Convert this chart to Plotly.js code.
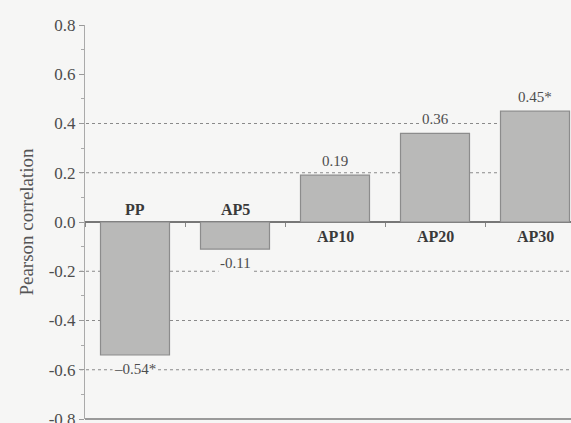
<!DOCTYPE html>
<html>
<head>
<meta charset="utf-8">
<script src="https://cdn.plot.ly/plotly-3.0.1.min.js"></script>
<style>
html,body{margin:0;padding:0;width:571px;height:423px;overflow:hidden;background:#f6f6f5;}
#chart{width:600px;height:423px;}
</style>
</head>
<body>
<div id="chart"></div>
<script>
const categories = ['PP', 'AP5', 'AP10', 'AP20', 'AP30'];
const values = [-0.54, -0.11, 0.19, 0.36, 0.45];
const valueLabels = ['\u20130.54*', '-0.11', '0.19', '0.36', '0.45*'];
const gridValues = [0.4, 0.2, -0.2, -0.4, -0.6];
const yTickValues = [0.8, 0.6, 0.4, 0.2, 0.0, -0.2, -0.4, -0.6, -0.8];
const yTickLabels = ['0.8', '0.6', '0.4', '0.2', '0.0', '-0.2', '-0.4', '-0.6', '-0.8'];

const serif = '"Liberation Serif", "Times New Roman", serif';
const bg = '#f6f6f5';
const textColor = '#4d4d4d';

const trace = {
  type: 'bar',
  x: categories,
  y: values,
  width: 0.69,
  marker: {color: '#b9b9b8', line: {color: '#8c8c8c', width: 1.2}},
  hoverinfo: 'skip'
};

const annotations = [];
categories.forEach((c, i) => {
  const v = values[i];
  annotations.push({
    x: c, y: v, xref: 'x', yref: 'y',
    text: valueLabels[i], showarrow: false,
    yanchor: v < 0 ? 'top' : 'bottom',
    yshift: v < 0 ? -4 : 4,
    bgcolor: bg,
    font: {family: serif, size: 15, color: textColor}
  });
  annotations.push({
    x: c, y: 0, xref: 'x', yref: 'y',
    text: '<b>' + c + '</b>', showarrow: false,
    yanchor: v < 0 ? 'bottom' : 'top',
    yshift: v < 0 ? 2 : -4,
    font: {family: serif, size: 16, color: '#3a3a3a'}
  });
});

const shapes = gridValues.map(g => ({
  type: 'line', xref: 'paper', yref: 'y',
  x0: -0.01, x1: 1, y0: g, y1: g,
  line: {color: '#8a8a8a', width: 1, dash: 'dot'},
  layer: 'below'
}));
shapes.push({
  type: 'line', xref: 'paper', yref: 'paper',
  x0: 0, x1: 1, y0: 0, y1: 0,
  line: {color: '#9a9a9a', width: 2}
});

const layout = {
  width: 600, height: 423,
  margin: {l: 85, r: 15, t: 25, b: 4},
  paper_bgcolor: bg, plot_bgcolor: bg,
  showlegend: false,
  font: {family: serif, color: textColor},
  xaxis: {
    type: 'category',
    range: [-0.5, 4.5],
    anchor: 'free', position: 0.5,
    showline: false, showgrid: false, zeroline: false,
    ticks: 'outside', tickson: 'boundaries', ticklen: 4, tickcolor: '#888',
    showticklabels: false
  },
  yaxis: {
    range: [-0.8, 0.8],
    tickvals: yTickValues, ticktext: yTickLabels,
    ticks: 'outside', ticklen: 5, tickcolor: '#999',
    minor: {dtick: 0.1, ticks: 'outside', ticklen: 3, tickcolor: '#aaa', showgrid: false},
    showgrid: false,
    showline: true, linecolor: '#aaa', linewidth: 1,
    zeroline: true, zerolinecolor: '#777', zerolinewidth: 1.5,
    ticklabeloverflow: 'allow',
    tickfont: {family: serif, size: 17, color: textColor},
    title: {text: 'Pearson correlation', font: {family: serif, size: 19, color: '#555'}, standoff: 10}
  },
  bargap: 0.31,
  annotations: annotations,
  shapes: shapes
};

Plotly.newPlot('chart', [trace], layout, {displayModeBar: false, staticPlot: true});
</script>
</body>
</html>
